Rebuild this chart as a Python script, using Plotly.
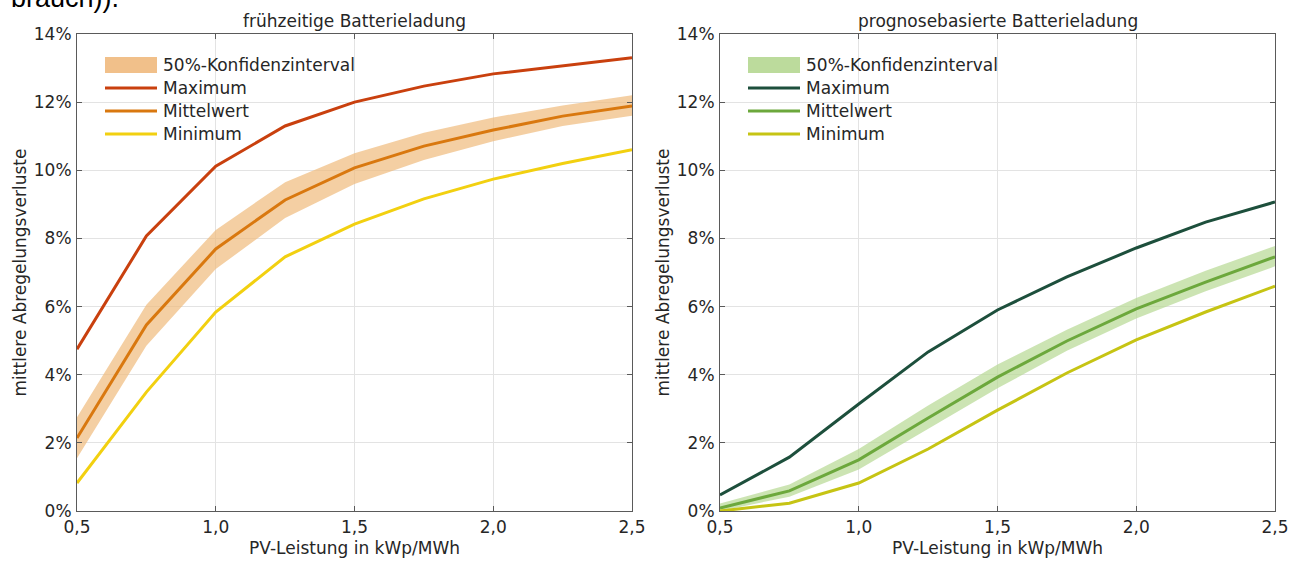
import plotly.graph_objects as go

# ---- data ----
x_pv = [0.5, 0.75, 1.0, 1.25, 1.5, 1.75, 2.0, 2.25, 2.5]

early_max = [4.75, 8.07, 10.12, 11.3, 12.0, 12.47, 12.83, 13.06, 13.3]
early_mean = [2.14, 5.46, 7.69, 9.13, 10.07, 10.71, 11.18, 11.59, 11.89]
early_lo = [1.55, 4.85, 7.1, 8.6, 9.6, 10.3, 10.85, 11.3, 11.6]
early_hi = [2.75, 6.05, 8.25, 9.65, 10.5, 11.1, 11.55, 11.9, 12.2]
early_min = [0.82, 3.49, 5.84, 7.46, 8.42, 9.16, 9.74, 10.2, 10.6]

fc_max = [0.47, 1.58, 3.14, 4.67, 5.9, 6.87, 7.72, 8.48, 9.07]
fc_mean = [0.09, 0.59, 1.5, 2.73, 3.93, 4.99, 5.93, 6.72, 7.46]
fc_lo = [0.0, 0.42, 1.22, 2.4, 3.6, 4.7, 5.65, 6.45, 7.18]
fc_hi = [0.22, 0.78, 1.82, 3.1, 4.3, 5.32, 6.25, 7.05, 7.78]
fc_min = [0.0, 0.23, 0.82, 1.82, 2.96, 4.05, 5.02, 5.84, 6.6]

titles = ["frühzeitige Batterieladung", "prognosebasierte Batterieladung"]
legend_names = ["50%-Konfidenzinterval", "Maximum", "Mittelwert", "Minimum"]
x_ticks = [0.5, 1.0, 1.5, 2.0, 2.5]
x_ticktext = ["0,5", "1,0", "1,5", "2,0", "2,5"]
y_ticks = [0, 2, 4, 6, 8, 10, 12, 14]
y_ticktext = ["0%", "2%", "4%", "6%", "8%", "10%", "12%", "14%"]

FONT = "DejaVu Sans"
TXT = "#262626"
FS = 17

W, H = 1296, 561
ytop, ybot = 34, 511
ydom = [1 - ybot / H, 1 - ytop / H]
xpix = [[77, 632], [720, 1275]]
xdoms = [[a / W, b / W] for a, b in xpix]

panels = [
    dict(xa="x", ya="y", lo=early_lo, hi=early_hi, mx=early_max, mean=early_mean, mn=early_min,
         band="rgba(240,188,128,0.72)", band_leg="#f1c08a",
         cols=["#c9400e", "#d9780f", "#f2d010"]),
    dict(xa="x2", ya="y2", lo=fc_lo, hi=fc_hi, mx=fc_max, mean=fc_mean, mn=fc_min,
         band="rgba(184,218,150,0.72)", band_leg="#bcdb9c",
         cols=["#1d4f3c", "#6ca83c", "#c6c414"]),
]

fig = go.Figure()
for p in panels:
    fig.add_trace(go.Scatter(x=x_pv, y=p["lo"], mode="lines", line=dict(width=0, color=p["band"]),
                             showlegend=False, hoverinfo="skip", xaxis=p["xa"], yaxis=p["ya"]))
    fig.add_trace(go.Scatter(x=x_pv, y=p["hi"], mode="lines", line=dict(width=0, color=p["band"]),
                             fill="tonexty", fillcolor=p["band"], name=legend_names[0],
                             showlegend=False, xaxis=p["xa"], yaxis=p["ya"]))
    for vals, col, nm in [(p["mx"], p["cols"][0], legend_names[1]),
                          (p["mean"], p["cols"][1], legend_names[2]),
                          (p["mn"], p["cols"][2], legend_names[3])]:
        fig.add_trace(go.Scatter(x=x_pv, y=vals, mode="lines", line=dict(width=3, color=col),
                                 name=nm, showlegend=False, xaxis=p["xa"], yaxis=p["ya"]))

axis_common = dict(showline=True, linecolor="#5a5a5a", linewidth=1, mirror="ticks",
                   ticks="inside", ticklen=5, tickcolor="#5a5a5a", automargin=False,
                   showgrid=True, gridcolor="#e3e3e3", gridwidth=1, zeroline=False,
                   tickfont=dict(family=FONT, size=FS, color=TXT))

layout = dict(width=W, height=H, margin=dict(l=0, r=0, t=0, b=0, pad=0, autoexpand=False),
              paper_bgcolor="white", plot_bgcolor="white",
              font=dict(family=FONT, color=TXT), showlegend=False)

for i in range(2):
    xs = "xaxis" if i == 0 else "xaxis2"
    ys = "yaxis" if i == 0 else "yaxis2"
    layout[xs] = dict(axis_common, domain=xdoms[i], anchor="y" if i == 0 else "y2",
                      range=[0.5, 2.5], tickvals=x_ticks, ticktext=x_ticktext,
                      ticklabelstandoff=1,
                      title=dict(text="PV-Leistung in kWp/MWh", standoff=5,
                                 font=dict(family=FONT, size=FS, color=TXT)))
    layout[ys] = dict(axis_common, domain=ydom, anchor="x" if i == 0 else "x2",
                      range=[0, 14], tickvals=y_ticks, ticktext=y_ticktext,
                      ticklabelstandoff=1,
                      title=dict(text="mittlere Abregelungsverluste", standoff=2,
                                 font=dict(family=FONT, size=FS, color=TXT)))

annotations = []
shapes = []
for i, t in enumerate(titles):
    annotations.append(dict(text=t, xref="paper", yref="paper",
                            x=(xdoms[i][0] + xdoms[i][1]) / 2, y=1 - 21 / H,
                            xanchor="center", yanchor="middle", showarrow=False,
                            font=dict(family=FONT, size=FS, color=TXT)))

# manual legends (inside each panel, top-left)
leg_rows = [65, 88, 111, 134]
for i, p in enumerate(panels):
    x0 = xpix[i][0] + 28
    x1 = x0 + 52
    shapes.append(dict(type="rect", xref="paper", yref="paper",
                       x0=x0 / W, x1=x1 / W, y0=1 - (leg_rows[0] + 8) / H, y1=1 - (leg_rows[0] - 8) / H,
                       fillcolor=p["band_leg"], line=dict(width=0)))
    for r, col in zip(leg_rows[1:], p["cols"]):
        shapes.append(dict(type="line", xref="paper", yref="paper",
                           x0=x0 / W, x1=x1 / W, y0=1 - r / H, y1=1 - r / H,
                           line=dict(color=col, width=3)))
    for r, nm in zip(leg_rows, legend_names):
        annotations.append(dict(text=nm, xref="paper", yref="paper", x=(x1 + 4) / W, y=1 - r / H,
                                xanchor="left", yanchor="middle", showarrow=False,
                                font=dict(family=FONT, size=FS, color=TXT)))

annotations.append(dict(text="brauch)).", xref="paper", yref="paper", x=9 / W, y=1 + 2 / H,
                        xanchor="left", yanchor="middle", showarrow=False,
                        font=dict(family="Liberation Sans", size=27, color="black")))
layout["annotations"] = annotations
layout["shapes"] = shapes

fig.update_layout(**layout)
fig.write_html("out.html", config={"displayModeBar": False},
               post_script="document.body.style.margin='0';document.body.style.overflow='hidden';")
